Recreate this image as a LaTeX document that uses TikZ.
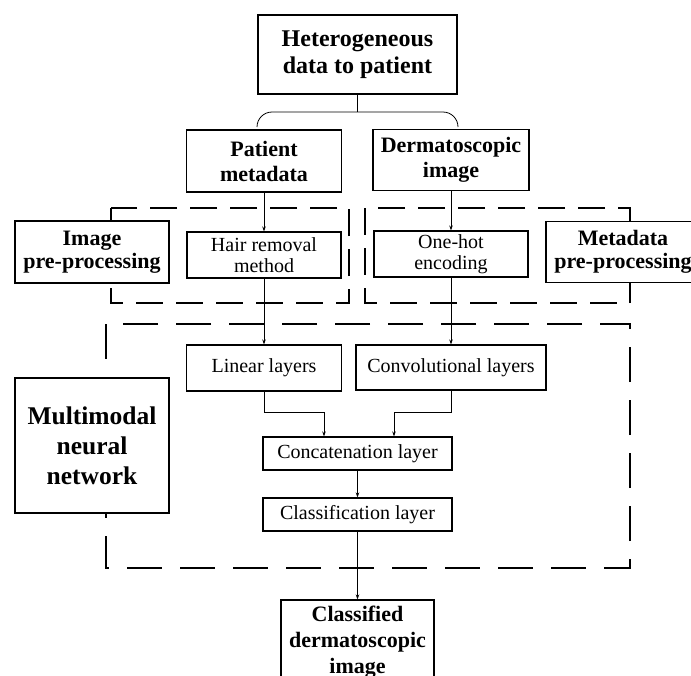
\documentclass[tikz,border=0pt]{standalone}
\usepackage{fontspec}
\setmainfont{Liberation Serif}
\usetikzlibrary{arrows.meta,calc}
\begin{document}
\begin{tikzpicture}[x=1pt,y=-1pt,
  box/.style={draw, line width=1.1pt, fill=white, inner sep=0pt, align=center},
  bigtxt/.style={font=\fontsize{22}{25}\selectfont\bfseries},
  smalltxt/.style={font=\fontsize{20}{20.5}\selectfont},
  region/.style={draw, line width=2pt, dash pattern=on 27pt off 13pt},
  bigregion/.style={draw, line width=2.2pt, dash pattern=on 35pt off 18pt},
  arr/.style={-{Stealth[length=5pt,width=3.5pt]}, line width=0.8pt},
  link/.style={line width=0.8pt}]
\useasboundingbox (0,0) rectangle (691,675);

% dashed regions
\draw[region] (111,208) rectangle (349,303);
\draw[region] (365,208) rectangle (630,303);
\draw[bigregion] (106,324) rectangle (630,568);

% nodes
\node[box, font=\fontsize{24}{27}\selectfont\bfseries, minimum width=199pt, minimum height=79pt] (hetero) at (357.5,54.5) {Heterogeneous\\data to patient};
\node[box, bigtxt, minimum width=155pt, minimum height=62pt] (patient) at (264,161) {Patient\\metadata};
\node[box, bigtxt, minimum width=156pt, minimum height=61pt] (derm) at (451,160) {Dermatoscopic\\image};
\node[box, font=\fontsize{22}{23.5}\selectfont\bfseries, minimum width=154pt, minimum height=62pt] (imgpre) at (92,252) {Image\\pre-processing};
\node[box, smalltxt, minimum width=154pt, minimum height=46pt] (hair) at (264,255) {Hair removal\\method};
\node[box, smalltxt, minimum width=154pt, minimum height=46pt] (onehot) at (451,254) {One-hot\\encoding};
\node[box, font=\fontsize{22}{23.5}\selectfont\bfseries, minimum width=154pt, minimum height=61pt] (metapre) at (623,252) {Metadata\\pre-processing};
\node[box, smalltxt, minimum width=155pt, minimum height=46pt] (linear) at (264,368) {Linear layers};
\node[box, smalltxt, minimum width=190pt, minimum height=45pt] (conv) at (451,367.5) {Convolutional layers};
\node[box, smalltxt, minimum width=189pt, minimum height=33pt] (concat) at (357.5,453.5) {Concatenation layer};
\node[box, smalltxt, minimum width=189pt, minimum height=33pt] (classif) at (357.5,514.5) {Classification layer};
\node[box, font=\fontsize{25.5}{30}\selectfont\bfseries, minimum width=154pt, minimum height=135pt] (multi) at (92,445.5) {Multimodal\\neural\\network};
\node[box, font=\fontsize{22}{26}\selectfont\bfseries, minimum width=153pt, minimum height=84pt] (classified) at (357.5,642) {Classified\\dermatoscopic\\image};

% bracket from top box
\coordinate (split) at (357.5,112);
\coordinate (bl) at (257,127);
\coordinate (br) at (458,127);
\draw[link] (hetero.south) -- (split);
\draw[link, rounded corners=15pt] (bl) -- (257,112) -- (458,112) -- (br);

% arrows
\draw[arr] (patient.south) -- (hair.north);
\draw[arr] (derm.south) -- (onehot.north);
\draw[arr] (hair.south) -- (linear.north);
\draw[arr] (onehot.south) -- (conv.north);
\draw[arr] (linear.south) -- ++(0,21) -| ($(concat.north)+(-33.5,0)$);
\draw[arr] (conv.south) -- ++(0,21.5) -| ($(concat.north)+(36.5,0)$);
\draw[arr] (concat.south) -- (classif.north);
\draw[arr] (classif.south) -- (classified.north);
\end{tikzpicture}
\end{document}
